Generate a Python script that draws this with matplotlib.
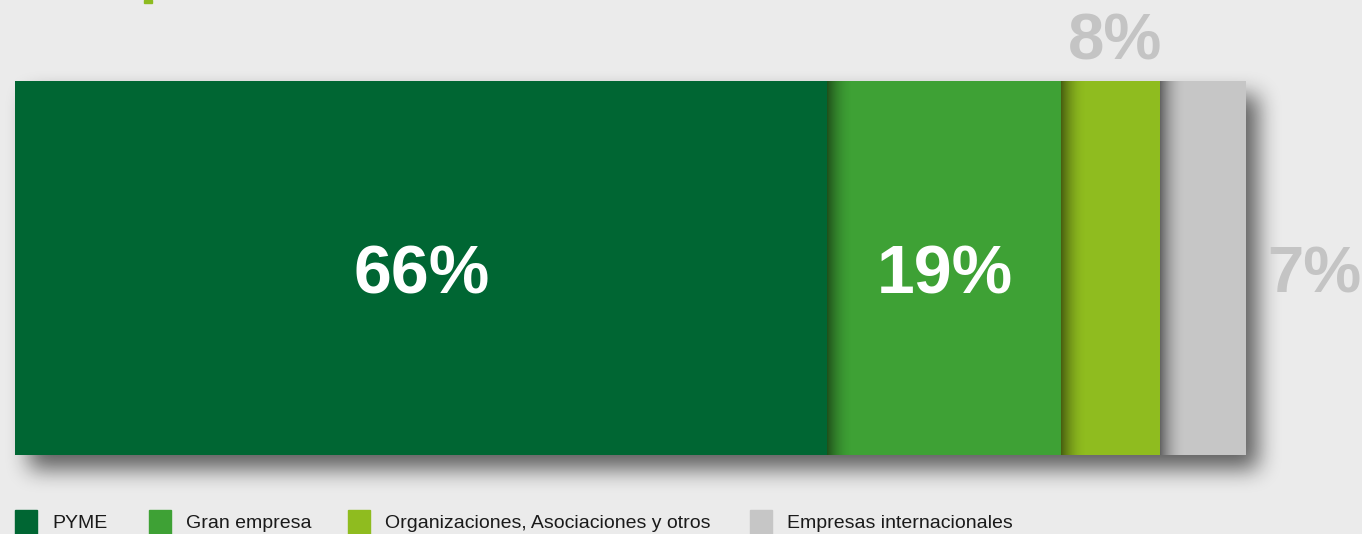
# Distribución por tipo de cliente - barra apilada horizontal
import numpy as np
import matplotlib.pyplot as plt
from matplotlib.patches import Rectangle

categorias = ['PYME', 'Gran empresa', 'Organizaciones, Asociaciones y otros', 'Empresas internacionales']
valores = [66, 19, 8, 7]
etiquetas = ['66%', '19%', '8%', '7%']
colores = ['#006633', '#3ea135', '#8fbc1f', '#c6c6c6']

bg = '#ebebeb'
W, H = 1362, 534
fig = plt.figure(figsize=(W / 100, H / 100), dpi=100, facecolor=bg)

# axes covering only the bar region
ax = fig.add_axes([15 / W, (H - 455) / H, 1231 / W, 374 / H])
total = sum(valores)
ax.axis('off')

px = total / 1231  # one pixel in data units (x)
py = 1 / 374       # one pixel in data units (y)

# soft drop shadow: blurred mask of the bar, shifted right/down
m = 60
mask = np.zeros((374 + 2 * m, 1231 + 2 * m))
mask[m + 14:m + 374 + 14, m + 14:m + 1231 + 12] = 1.0
def blur(a, r):
    k = np.ones(2 * r + 1) / (2 * r + 1)
    a = np.apply_along_axis(lambda row: np.convolve(row, k, mode='same'), 1, a)
    a = np.apply_along_axis(lambda col: np.convolve(col, k, mode='same'), 0, a)
    return a
mask = blur(blur(blur(mask, 10), 10), 10)
sh = np.zeros(mask.shape + (4,))
sh[..., 3] = mask * 0.6
ax.imshow(sh, extent=(-m * px, total + m * px, -0.5 - m * py, 0.5 + m * py),
          aspect='auto', zorder=1, interpolation='bilinear', clip_on=False)

izq = np.cumsum([0] + valores[:-1])
ax.barh(0, valores, left=izq, height=1, color=colores, zorder=3)

# inner shadow on the left edge of each segment after the first
grad = np.linspace(0, 1, 64)
rgba = np.zeros((1, 64, 4))
rgba[..., 3] = 0.5 * (1 - grad) ** 2
for x0 in izq[1:]:
    ax.imshow(rgba, extent=(x0, x0 + 26 * px, -0.5, 0.5), aspect='auto',
              zorder=4, interpolation='bilinear')
ax.set_xlim(0, total)
ax.set_ylim(-0.5, 0.5)

fuente = ['Liberation Sans', 'DejaVu Sans']
for i, (v, e) in enumerate(zip(valores, etiquetas)):
    cx = izq[i] + v / 2
    if i < 2:
        ax.text(cx, -0.02, e, color='white', fontsize=49, fontweight='bold',
                ha='center', va='center', family=fuente, zorder=5)
    elif i == 2:
        ax.text(cx + 4 * px, 0.5 + 38 * py, e, color='#c4c4c4', fontsize=47,
                fontweight='bold', ha='center', va='center', family=fuente,
                zorder=5, clip_on=False)
    else:
        ax.text(izq[i] + v + 21 * px, -0.02, e, color='#c4c4c4', fontsize=47,
                fontweight='bold', ha='left', va='center', family=fuente,
                zorder=5, clip_on=False)

# leftover title fragment at the top
fig.patches.append(Rectangle((144 / W, (H - 3) / H), 8 / W, 3 / H,
                             transform=fig.transFigure, color='#8dbb1f'))

# legend
leg_x = [15, 149, 348, 750]
for x, c, nombre in zip(leg_x, colores, categorias):
    fig.patches.append(Rectangle((x / W, 0), 22 / W, 24 / H,
                                 transform=fig.transFigure, color=c))
    fig.text((x + 37) / W, 11 / H, nombre, fontsize=14, color='#1a1a1a',
             va='center', ha='left', family=['Liberation Sans', 'DejaVu Sans'])

fig.savefig('out.png', dpi=100, facecolor=bg)
